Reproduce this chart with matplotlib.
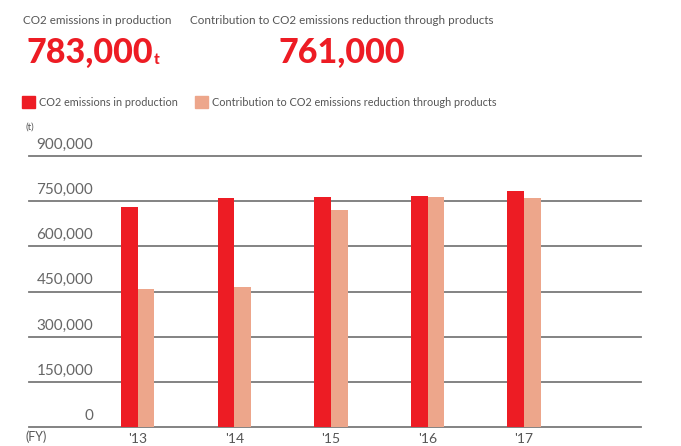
import matplotlib.pyplot as plt
import numpy as np
from matplotlib.patches import Rectangle

years = ["'13", "'14", "'15", "'16", "'17"]
production = [730000, 760000, 764000, 767000, 783000]
contribution = [458000, 465000, 721000, 764000, 761000]
y_ticks = [0, 150000, 300000, 450000, 600000, 750000, 900000]

RED = "#ed1c24"
SALMON = "#eda68b"
GREY = "#555555"

plt.rcParams["font.family"] = ["Lato", "DejaVu Sans"]

fig = plt.figure(figsize=(6.81, 4.46), dpi=100)
W, H = 681, 446


def fx(px):
    return px / W


def fy(py):
    return 1 - py / H


# header figures
fig.text(fx(23), fy(21), "CO2 emissions in production", fontsize=8.4,
         color=GREY, va="center", ha="left")
fig.text(fx(26), fy(53), "783,000", fontsize=24.5, fontweight="black",
         color=RED, va="center", ha="left")
fig.text(fx(154), fy(60), "t", fontsize=11, fontweight="black",
         color=RED, va="center", ha="left")
fig.text(fx(342), fy(21), "Contribution to CO2 emissions reduction through products",
         fontsize=8.4, color=GREY, va="center", ha="center")
fig.text(fx(342), fy(53), "761,000", fontsize=24.5, fontweight="black",
         color=RED, va="center", ha="center")

# legend
fig.patches.append(Rectangle((fx(22), fy(108)), fx(13), 12 / H, color=RED,
                             transform=fig.transFigure, figure=fig))
fig.text(fx(39), fy(103), "CO2 emissions in production", fontsize=7.8,
         color=GREY, va="center", ha="left")
fig.patches.append(Rectangle((fx(195), fy(108)), fx(13), 12 / H, color=SALMON,
                             transform=fig.transFigure, figure=fig))
fig.text(fx(212), fy(103), "Contribution to CO2 emissions reduction through products",
         fontsize=7.8, color=GREY, va="center", ha="left")

fig.text(fx(25), fy(127), "(t)", fontsize=7, color=GREY, va="center", ha="left")
fig.text(fx(25), fy(437), "(FY)", fontsize=9, color=GREY, va="center", ha="left")

# chart
ax = fig.add_axes([fx(29), fy(427), fx(612), (427 - 156) / H])
x = np.arange(len(years))
w = 0.172
ax.bar(x - w / 2, production, w, color=RED, zorder=3)
ax.bar(x + w / 2, contribution, w, color=SALMON, zorder=3)

for v in y_ticks:
    ax.axhline(v, color="#7a7a7a", lw=1.3, zorder=1, clip_on=False)
    ax.annotate(f"{v:,}", xy=(0.105, v), xycoords=("axes fraction", "data"),
                xytext=(0, 3), textcoords="offset points", ha="right", va="bottom",
                fontsize=11, color="#666666")

ax.set_xlim(-1.125, 5.21)
ax.set_ylim(0, 900000)
ax.set_xticks(x)
ax.set_xticklabels(years, fontsize=10, color=GREY)
ax.tick_params(axis="x", length=0, pad=4)
ax.set_yticks([])
for s in ax.spines.values():
    s.set_visible(False)

fig.savefig("out.png", dpi=100)
